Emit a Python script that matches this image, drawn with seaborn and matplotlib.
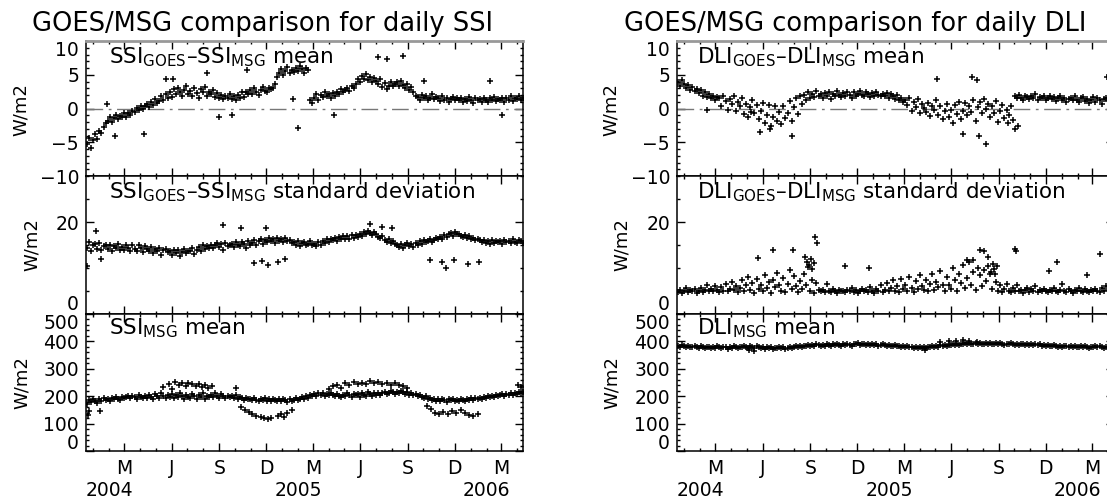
"""
So sánh GOES/MSG cho SSI và DLI hằng ngày (2004-2006).
Sáu ô: hiệu trung bình, độ lệch chuẩn của hiệu, trung bình MSG.
"""
import matplotlib
matplotlib.use("Agg")
import matplotlib.pyplot as plt
import matplotlib.dates as mdates
import matplotlib.transforms as mtransforms
from matplotlib.ticker import FixedLocator, MultipleLocator, FuncFormatter
import pandas as pd
import seaborn as sns

NGAY_GOC = pd.Timestamp("2004-01-01")
SO_NGAY_TRUC = 846
# mỗi giá trị chính cách nhau 4 ngày, bắt đầu từ 03/01/2004
NGAY = pd.date_range("2004-01-03", periods=212, freq="4D")

# --- SSI: hiệu trung bình GOES - MSG (W/m2) ---
ssi_hieu_tb = [
    -5.3, -4.4, -5.9, -4.6, -3.8, -4.5, -3.3, -3.6, -2.8, -2.2,
    -1.9, -1.2, -2.0, -1.4, -0.9, -1.6, -1.1, -1.3, -0.7, -1.2,
    -0.6, -1.0, -0.3, -0.5, 0.1, -0.2, 0.4, -0.1, 0.3, 0.6,
    0.2, 0.9, 0.5, 1.4, 0.8, 1.1, 1.9, 1.3, 2.2, 1.6,
    2.4, 1.7, 2.9, 2.1, 3.1, 2.5, 1.9, 2.8, 3.3, 2.2,
    2.6, 1.8, 3.0, 2.3, 1.6, 2.9, 2.4, 3.2, 1.9, 2.5,
    2.1, 2.7, 1.7, 2.3, 1.5, 2.0, 1.4, 1.9, 1.6, 2.2,
    1.4, 1.8, 1.2, 2.0, 1.6, 2.4, 1.7, 2.5, 2.1, 2.8,
    2.2, 3.0, 2.5, 2.0, 2.8, 3.2, 2.6, 2.4, 3.1, 2.9,
    3.1, 3.6, 4.6, 5.2, 5.8, 5.0, 5.5, 6.1, 5.3, 5.7,
    5.4, 6.0, 5.6, 6.3, 5.8, 5.2, 6.0, 5.7, 1.3, 0.8,
    1.6, 2.2, 1.2, 2.0, 1.7, 2.4, 1.9, 2.1, 1.5, 2.3,
    1.8, 2.5, 2.1, 2.9, 2.4, 2.7, 3.1, 2.6, 3.4, 3.0,
    3.6, 4.3, 3.9, 4.8, 4.4, 5.1, 4.2, 4.7, 3.9, 4.5,
    4.1, 3.6, 4.4, 3.2, 3.8, 2.9, 3.4, 4.0, 3.3, 3.7,
    3.9, 3.4, 4.1, 3.5, 3.0, 3.6, 2.8, 3.2, 2.4, 1.8,
    1.7, 1.3, 2.0, 1.5, 1.8, 1.2, 1.6, 2.1, 1.4, 1.7,
    1.5, 1.1, 1.8, 1.3, 1.6, 1.0, 1.4, 1.7, 1.2, 1.5,
    1.2, 1.6, 0.9, 1.4, 1.1, 1.7, 1.3, 0.8, 1.5, 1.2,
    1.4, 1.0, 1.6, 1.2, 0.9, 1.5, 1.3, 1.7, 1.1, 1.4,
    1.2, 1.6, 1.0, 1.5, 1.3, 1.8, 1.1, 1.6, 1.4, 1.9,
    1.3, 1.6,
]
ssi_hieu_tb_le_ngay = [40, 56, 113, 155, 168, 234, 258, 282, 311, 400, 410, 480,
                       565, 583, 614, 655, 782, 805]
ssi_hieu_tb_le_gt = [0.7, -4.0, -3.8, 4.3, 4.4, 5.3, -1.2, -1.0, 5.7, 1.4, -2.9, -0.9,
                     7.7, 7.4, 7.8, 4.1, 4.1, -1.0]

# --- SSI: độ lệch chuẩn của hiệu (W/m2) ---
ssi_hieu_std = [
    14.3, 15.6, 13.8, 14.9, 15.2, 14.1, 15.5, 13.9, 14.7, 15.0,
    14.2, 15.1, 13.7, 14.8, 14.4, 15.3, 13.9, 14.6, 14.0, 15.0,
    14.4, 13.6, 14.9, 14.1, 13.8, 15.0, 14.3, 13.5, 14.7, 14.2,
    13.8, 14.5, 13.2, 14.1, 13.6, 14.4, 12.9, 13.9, 14.2, 13.4,
    13.7, 12.8, 14.0, 13.3, 13.9, 12.7, 13.5, 14.1, 13.2, 13.8,
    13.6, 14.3, 13.1, 14.0, 14.6, 13.8, 15.0, 14.2, 14.8, 14.4,
    15.1, 14.3, 14.9, 15.4, 14.6, 15.2, 14.0, 15.5, 14.8, 15.0,
    15.3, 14.5, 15.7, 15.0, 14.7, 15.6, 15.2, 14.4, 15.8, 15.1,
    15.5, 16.1, 15.0, 15.8, 16.4, 15.3, 16.0, 15.6, 16.5, 15.9,
    16.2, 15.4, 16.6, 15.9, 16.3, 15.7, 16.5, 15.8, 16.1, 15.5,
    15.6, 15.0, 15.9, 14.8, 15.4, 15.7, 14.9, 15.3, 15.8, 15.1,
    15.2, 14.7, 15.6, 15.0, 15.9, 15.4, 16.2, 15.6, 16.4, 16.0,
    16.5, 15.9, 16.8, 16.2, 17.0, 16.4, 16.9, 16.3, 17.2, 16.6,
    17.1, 16.7, 17.5, 17.0, 17.8, 17.3, 18.1, 17.6, 17.2, 17.9,
    17.4, 16.8, 16.5, 17.0, 16.1, 15.7, 16.3, 15.5, 15.9, 15.2,
    15.0, 14.6, 15.3, 14.4, 14.9, 15.5, 14.8, 15.2, 14.6, 15.4,
    15.1, 15.8, 15.3, 16.0, 15.6, 15.9, 16.3, 15.7, 16.1, 16.5,
    16.2, 16.8, 16.4, 17.1, 16.7, 17.3, 17.6, 17.0, 17.8, 17.3,
    17.5, 17.0, 16.8, 17.2, 16.5, 16.9, 16.2, 16.6, 16.0, 16.4,
    16.1, 15.6, 16.0, 15.4, 15.8, 15.3, 16.0, 15.5, 15.9, 15.6,
    15.8, 15.3, 16.1, 15.6, 15.9, 15.4, 16.2, 15.7, 15.5, 16.0,
    15.8, 15.4,
]
ssi_hieu_std_le_ngay = [1, 20, 30, 266, 300, 325, 340, 348, 352, 372, 385, 550,
                        574, 593, 665, 690, 697, 712, 740, 760]
ssi_hieu_std_le_gt = [10.4, 18.1, 11.9, 19.3, 18.7, 11.0, 11.6, 18.6, 10.6, 11.2, 12.0, 19.6,
                      19.0, 18.8, 11.8, 11.4, 10.1, 11.7, 10.8, 11.3]

# --- SSI: trung bình MSG (W/m2) ---
ssi_msg_tb = [
    172, 185, 178, 190, 183, 176, 188, 181, 192, 186,
    190, 184, 195, 188, 197, 191, 186, 198, 193, 196,
    199, 193, 202, 196, 190, 204, 198, 193, 201, 195,
    203, 196, 188, 207, 199, 193, 210, 201, 195, 206,
    198, 209, 192, 203, 197, 212, 200, 190, 205, 198,
    193, 207, 199, 188, 204, 196, 210, 191, 202, 197,
    205, 198, 210, 201, 195, 207, 199, 193, 202, 196,
    200, 194, 203, 189, 197, 192, 186, 195, 188, 191,
    185, 193, 187, 182, 190, 186, 193, 184, 189, 182,
    190, 185, 181, 188, 183, 191, 186, 180, 189, 184,
    187, 192, 185, 190, 196, 188, 200, 194, 205, 199,
    208, 202, 213, 206, 210, 200, 207, 203, 212, 205,
    199, 208, 202, 197, 206, 200, 211, 204, 198, 207,
    203, 209, 198, 212, 205, 201, 214, 207, 200, 210,
    206, 213, 204, 210, 216, 208, 212, 219, 214, 209,
    217, 212, 220, 214, 209, 215, 206, 211, 203, 207,
    200, 205, 197, 193, 199, 188, 194, 186, 191, 184,
    189, 183, 191, 186, 180, 188, 185, 191, 182, 187,
    184, 190, 186, 181, 189, 185, 192, 187, 194, 189,
    195, 191, 198, 193, 200, 196, 202, 198, 205, 200,
    203, 207, 201, 209, 205, 211, 204, 213, 208, 215,
    210, 216,
]
# nhánh tách ra (mùa hè cao, mùa đông thấp)
ssi_msg_nhanh_ngay = [3, 5, 28, 150, 160, 166, 172, 180, 186, 193, 198, 205, 212, 218,
                      224, 230, 236, 244, 290, 300, 308, 315, 322, 330, 338, 345, 352,
                      358, 372, 378, 384, 390, 398, 470, 478, 486, 494, 502, 510, 518,
                      526, 534, 542, 550, 558, 566, 574, 582, 590, 598, 606, 614, 622,
                      660, 668, 676, 684, 692, 700, 708, 716, 726, 734, 742, 750, 758,
                      836, 842]
ssi_msg_nhanh_gt = [130, 145, 145, 235, 245, 228, 252, 240, 247, 236, 250, 244, 238, 246,
                    233, 241, 229, 237, 231, 160, 150, 142, 135, 128, 124, 120, 118,
                    122, 128, 135, 124, 138, 150, 228, 236, 242, 230, 248, 240, 252,
                    246, 250, 244, 255, 248, 252, 246, 250, 242, 248, 240, 236, 230,
                    165, 152, 140, 136, 142, 134, 145, 138, 148, 140, 132, 128, 136,
                    240, 232]

# --- DLI: hiệu trung bình GOES - MSG (W/m2) ---
dli_hieu_tb = [
    3.9, 3.4, 4.2, 3.6, 3.1, 3.5, 2.8, 3.2, 2.6, 2.9,
    2.3, 2.7, 1.9, 2.4, 1.7, 2.1, 1.5, 1.9, 1.3, 1.7,
    1.6, 0.4, 1.9, 1.1, -0.2, 1.4, 0.6, 1.8, -0.4, 0.9,
    0.3, 1.5, -0.8, 0.7, -1.3, 0.2, 1.2, -0.6, 0.5, -1.5,
    -0.4, 0.8, -2.1, -0.9, 0.5, -2.6, -1.2, 0.3, -1.8, -0.5,
    -2.3, 0.4, -1.4, -0.7, 1.1, -1.9, 0.2, 1.5, -0.8, 1.8,
    0.6, 2.0, 1.2, 2.4, 1.5, 2.1, 1.7, 2.6, 1.9, 2.2,
    1.6, 2.3, 1.9, 2.5, 1.4, 2.2, 1.8, 2.6, 2.0, 1.7,
    2.3, 1.8, 2.5, 2.0, 1.6, 2.4, 1.9, 2.2, 2.6, 2.0,
    1.8, 2.4, 2.1, 1.7, 2.3, 1.9, 2.5, 2.0, 1.8, 2.2,
    1.9, 2.3, 1.6, 2.1, 1.8, 1.4, 2.0, 1.2, 1.6, 1.0,
    1.3, 0.5, 1.6, -0.3, 0.9, 0.2, 1.4, -0.6, 0.7, 0.1,
    -0.5, 0.8, -1.1, 0.3, -0.2, 1.2, -0.9, 0.4, -1.6, -0.4,
    0.6, -1.3, -0.2, -2.2, 0.5, -0.8, 1.0, -1.5, -0.3, 0.8,
    -1.0, 0.4, -0.5, 1.3, -1.8, 0.2, 0.9, -0.7, 1.4, -0.1,
    0.7, -1.2, 0.3, -0.6, 1.1, -2.0, -0.3, 0.5, -1.4, -0.2,
    -0.9, 0.4, -1.7, 1.8, 1.5, 2.0, 1.6, 1.3, 1.9, 1.7,
    1.4, 1.8, 1.6, 2.1, 1.3, 1.7, 1.5, 1.9, 1.2, 1.6,
    1.8, 1.4, 1.7, 1.1, 1.5, 1.9, 1.3, 1.6, 1.0, 1.4,
    1.6, 1.2, 1.8, 1.3, 1.0, 1.5, 1.7, 1.1, 1.4, 0.8,
    1.3, 1.7, 1.0, 1.5, 1.2, 0.7, 1.4, 1.6, 1.1, 1.5,
    1.2, 1.4,
]
dli_hieu_tb_le_ngay = [58, 143, 161, 180, 222, 503, 553, 571, 580, 585, 598, 640, 655, 660, 833]
dli_hieu_tb_le_gt = [-0.2, -0.5, -3.5, -3.0, -4.0, 4.4, -3.8, 4.6, 4.2, -4.1, -5.2, -2.2, -3.1,
                     -2.6, 4.7]

# --- DLI: độ lệch chuẩn của hiệu (W/m2) ---
dli_hieu_std = [
    4.8, 5.3, 4.5, 5.0, 5.6, 4.7, 5.2, 4.9, 5.4, 4.6,
    5.1, 5.7, 4.8, 5.3, 6.2, 4.9, 5.5, 5.0, 6.0, 5.2,
    4.7, 5.8, 5.1, 6.5, 4.9, 5.4, 7.0, 5.2, 6.1, 4.8,
    5.6, 7.4, 5.0, 6.3, 8.1, 5.3, 6.8, 4.6, 7.7, 5.5,
    6.2, 4.9, 8.4, 5.7, 6.9, 4.5, 7.3, 5.8, 9.0, 6.4,
    5.1, 7.8, 4.7, 6.6, 9.5, 5.4, 8.2, 6.0, 4.8, 7.1,
    5.5, 8.7, 6.2, 10.3, 5.0, 7.4, 4.6, 6.8, 5.3, 4.9,
    5.2, 4.7, 6.5, 5.0, 4.8, 5.4, 5.1, 4.6, 5.3, 4.9,
    5.0, 4.7, 5.3, 4.9, 5.6, 4.8, 5.2, 4.6, 5.1, 5.4,
    4.9, 5.3, 4.7, 5.8, 5.0, 4.6, 5.5, 5.1, 6.4, 4.8,
    5.2, 6.8, 4.9, 5.6, 7.3, 5.0, 6.1, 4.7, 7.6, 5.4,
    6.3, 5.1, 8.0, 5.7, 4.8, 7.2, 5.5, 8.5, 6.0, 5.2,
    7.5, 4.9, 6.6, 8.8, 5.3, 7.0, 5.8, 9.4, 6.2, 5.0,
    8.1, 6.4, 5.4, 9.9, 7.3, 5.1, 8.6, 6.7, 10.6, 5.6,
    7.9, 11.2, 6.3, 9.1, 5.2, 10.1, 8.4, 6.0, 9.6, 7.2,
    10.4, 8.8, 5.5, 9.7, 7.0, 5.0, 6.2, 4.8, 5.4, 6.6,
    5.1, 4.7, 5.6, 5.0, 6.4, 4.9, 5.3, 4.6, 5.2, 5.7,
    4.8, 5.4, 5.0, 6.1, 4.7, 5.3, 4.9, 5.5, 5.1, 4.8,
    5.2, 4.9, 5.6, 5.0, 4.7, 5.3, 6.6, 5.1, 4.8, 5.4,
    5.0, 4.6, 5.3, 4.9, 5.7, 5.1, 4.8, 5.4, 5.0, 4.7,
    5.2, 4.9, 5.5, 5.1, 4.8, 5.6, 5.0, 6.0, 5.3, 4.9,
    5.1, 5.4,
]
dli_hieu_std_le_ngay = [157, 186, 225, 248, 252, 256, 260, 262, 266, 267, 271, 325, 372,
                        561, 574, 587, 595, 602, 607, 612, 616, 620, 655, 657, 720, 736,
                        793, 819]
dli_hieu_std_le_gt = [12.1, 14.0, 14.0, 12.5, 11.4, 10.6, 12.0, 9.8, 11.0, 16.7, 15.5, 10.5,
                      9.9, 11.8, 11.8, 14.0, 13.7, 12.5, 9.2, 10.8, 8.6, 10.4, 14.2, 13.8,
                      9.3, 11.3, 8.4, 13.0]

# --- DLI: trung bình MSG (W/m2) ---
dli_msg_tb = [
    384, 380, 386, 382, 379, 385, 381, 378, 383, 380,
    377, 382, 379, 376, 381, 378, 375, 380, 377, 383,
    379, 376, 381, 378, 374, 380, 377, 382, 379, 376,
    381, 378, 383, 379, 376, 382, 380, 377, 383, 379,
    376, 380, 374, 378, 375, 379, 373, 377, 376, 380,
    375, 378, 374, 377, 380, 376, 379, 382, 378, 383,
    381, 385, 383, 387, 384, 388, 385, 389, 386, 384,
    388, 385, 390, 387, 384, 389, 386, 391, 388, 385,
    390, 387, 392, 388, 385, 391, 389, 393, 388, 390,
    392, 388, 391, 387, 390, 386, 389, 385, 388, 391,
    387, 384, 388, 385, 383, 386, 382, 385, 381, 384,
    380, 383, 378, 381, 377, 379, 376, 380, 375, 378,
    377, 381, 378, 382, 379, 384, 381, 386, 383, 387,
    384, 388, 386, 390, 387, 391, 388, 392, 389, 393,
    390, 394, 391, 389, 393, 390, 395, 392, 389, 394,
    391, 395, 392, 389, 393, 390, 394, 391, 388, 392,
    389, 393, 390, 387, 391, 388, 392, 389, 386, 390,
    388, 391, 387, 390, 386, 389, 385, 388, 384, 387,
    385, 382, 386, 383, 380, 384, 381, 385, 382, 379,
    383, 380, 384, 381, 378, 382, 379, 383, 380, 377,
    381, 378, 382, 379, 383, 380, 377, 381, 378, 382,
    379, 381,
]
dli_msg_tb_le_ngay = [140, 150, 480, 510, 527, 540, 553, 566, 580]
dli_msg_tb_le_gt = [368, 366, 370, 397, 401, 400, 405, 402, 398]

MAU_CHAM = "black"


def ve_cham(ax, gia_tri, le_ngay, le_gt):
    x = list(NGAY) + [NGAY_GOC + pd.Timedelta(days=d) for d in le_ngay]
    y = list(gia_tri) + list(le_gt)
    sns.scatterplot(x=x, y=y, ax=ax, marker="+", color=MAU_CHAM, s=18,
                    linewidth=1.1, legend=False, zorder=3)


def dinh_dang_truc(ax, ylim, y_chinh, y_phu, hien_x, hang_tren):
    ax.set_xlim(NGAY_GOC, NGAY_GOC + pd.Timedelta(days=SO_NGAY_TRUC))
    ax.set_ylim(*ylim)
    ax.xaxis.set_major_locator(mdates.MonthLocator(bymonth=[3, 6, 9, 12], bymonthday=15))
    ax.xaxis.set_minor_locator(mdates.MonthLocator(bymonthday=15))
    ax.xaxis.set_major_formatter(FuncFormatter(lambda v, p: mdates.num2date(v).strftime("%b")[0]))
    ax.yaxis.set_major_locator(FixedLocator(y_chinh))
    ax.yaxis.set_minor_locator(MultipleLocator(y_phu))
    ax.tick_params(which="both", direction="in", top=True, right=True, width=1, colors="black",
                   labelsize=13.5)
    ax.tick_params(which="major", length=5.5)
    ax.tick_params(which="minor", length=2.5)
    ax.tick_params(axis="x", labelbottom=hien_x, pad=6)
    ax.tick_params(axis="y", pad=5)
    ax.set_xlabel("")
    ax.set_ylabel("")
    for s in ax.spines.values():
        s.set_linewidth(1.1)
        s.set_color("black")
    if hang_tren:
        # viền trên của ô đầu tiên trong bản gốc nhạt và dày hơn
        ax.spines["top"].set_color("#999999")
        ax.spines["top"].set_linewidth(2)


sns.set_theme(style="ticks")
plt.rcParams["font.family"] = ["DejaVu Sans"]
plt.rcParams["mathtext.fontset"] = "dejavusans"
plt.rcParams["text.color"] = "black"

W, H = 1107, 500
fig = plt.figure(figsize=(W / 100, H / 100), dpi=100)


def hop(x0, y0, x1, y1):
    return [x0 / W, 1 - y1 / H, (x1 - x0) / W, (y1 - y0) / H]


hang = [(41, 176), (176, 314), (314, 451)]
cot = [(86, 523), (677, 1114)]

cau_hinh = [
    # (ten, du lieu, le ngay, le gt, ylim, y chinh, y phu)
    [
        (r"SSI$_{\mathrm{GOES}}$–SSI$_{\mathrm{MSG}}$ mean", ssi_hieu_tb, ssi_hieu_tb_le_ngay,
         ssi_hieu_tb_le_gt, (-10, 10), [-10, -5, 0, 5, 10], 1),
        (r"SSI$_{\mathrm{GOES}}$–SSI$_{\mathrm{MSG}}$ standard deviation", ssi_hieu_std,
         ssi_hieu_std_le_ngay, ssi_hieu_std_le_gt, (0, 30), [0, 20], 5),
        (r"SSI$_{\mathrm{MSG}}$ mean", ssi_msg_tb, ssi_msg_nhanh_ngay, ssi_msg_nhanh_gt,
         (0, 500), [0, 100, 200, 300, 400, 500], 20),
    ],
    [
        (r"DLI$_{\mathrm{GOES}}$–DLI$_{\mathrm{MSG}}$ mean", dli_hieu_tb, dli_hieu_tb_le_ngay,
         dli_hieu_tb_le_gt, (-10, 10), [-10, -5, 0, 5, 10], 1),
        (r"DLI$_{\mathrm{GOES}}$–DLI$_{\mathrm{MSG}}$ standard deviation", dli_hieu_std,
         dli_hieu_std_le_ngay, dli_hieu_std_le_gt, (0, 30), [0, 20], 5),
        (r"DLI$_{\mathrm{MSG}}$ mean", dli_msg_tb, dli_msg_tb_le_ngay, dli_msg_tb_le_gt,
         (0, 500), [0, 100, 200, 300, 400, 500], 20),
    ],
]

tieu_de = ["GOES/MSG comparison for daily SSI", "GOES/MSG comparison for daily DLI"]
tieu_de_x = [263, 855]
nhan_y_x = [[21, 32, 22], [611, 622, 612]]
nhan_y_y = [110, 245, 383]

for c, (x0, x1) in enumerate(cot):
    fig.text(tieu_de_x[c] / W, 1 - 31 / H, tieu_de[c], ha="center", va="baseline", fontsize=18.5)
    for r, (y0, y1) in enumerate(hang):
        ten, du_lieu, le_ngay, le_gt, ylim, y_chinh, y_phu = cau_hinh[c][r]
        ax = fig.add_axes(hop(x0, y0, x1, y1))
        if r == 0:
            ax.axhline(0, color="#777777", lw=1, ls=(0, (12, 4, 2, 4)), zorder=1)
        ve_cham(ax, du_lieu, le_ngay, le_gt)
        dinh_dang_truc(ax, ylim, y_chinh, y_phu, hien_x=(r == 2), hang_tren=(r == 0))

        # căn nhãn ở mép trên/dưới giống bản gốc
        ticks = ax.yaxis.get_major_ticks()
        if r == 0:
            ticks[-1].label1.set_va("top")
        elif r == 1:
            ticks[0].label1.set_va("bottom")
        else:
            ticks[0].label1.set_va("baseline")
            ticks[0].label1.set_transform(
                ticks[0].label1.get_transform()
                + mtransforms.ScaledTranslation(0, 1.5 / 72, fig.dpi_scale_trans))
            ticks[-1].label1.set_va("top")

        lech_x = 0.053 if c == 0 else 0.046
        lech_y = 0.965 if r < 2 else 0.985
        ax.text(lech_x, lech_y, ten, transform=ax.transAxes, ha="left", va="top", fontsize=15.5)
        fig.text(nhan_y_x[c][r] / W, 1 - nhan_y_y[r] / H, "W/m2", rotation=90,
                 ha="center", va="center", fontsize=13)

        if r == 2:
            tr = mtransforms.blended_transform_factory(ax.transData, ax.transAxes)
            for nam in [2004, 2005, 2006]:
                ax.text(pd.Timestamp(f"{nam}-02-15"), -0.285, str(nam), transform=tr,
                        ha="center", va="center", fontsize=13.5)

fig.savefig("out.png", dpi=100)
